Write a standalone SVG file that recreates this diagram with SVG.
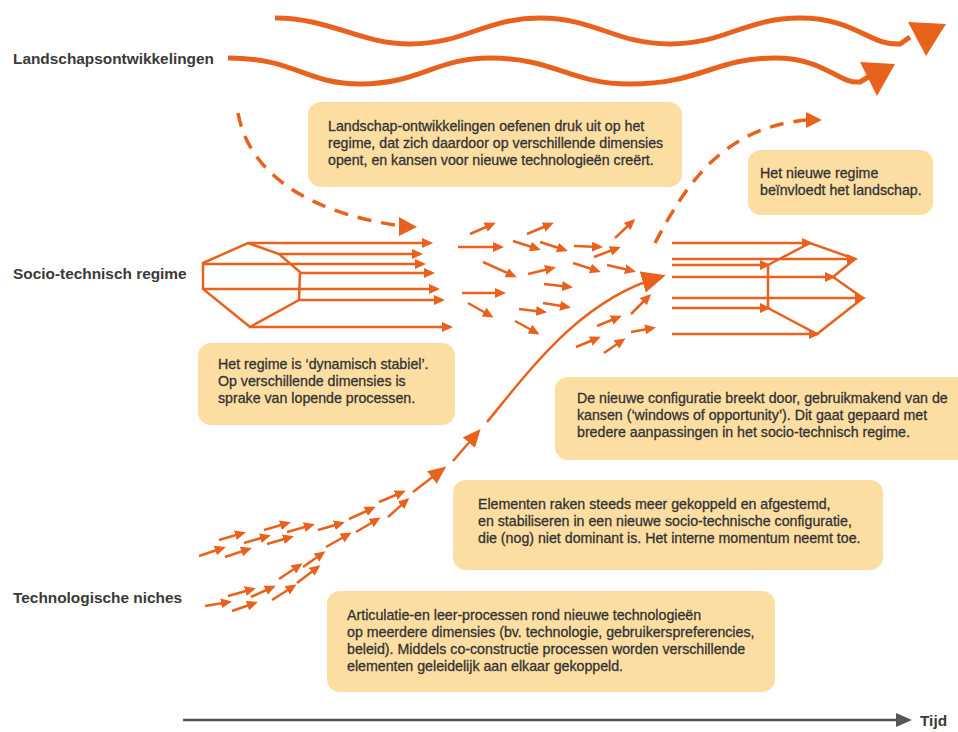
<svg xmlns="http://www.w3.org/2000/svg" width="958" height="732" viewBox="0 0 958 732">
<style>
.o{fill:none;stroke:#E8621E;stroke-width:2.5}
.w{fill:none;stroke:#E8621E;stroke-width:5}
.d{fill:none;stroke:#E8621E;stroke-width:3.5;stroke-dasharray:14 10}
.f{fill:#E8621E}
.box{fill:#FDDEA2}
.t{font-family:"Liberation Sans",Arial,sans-serif;font-size:14.2px;fill:#333;stroke:#333;stroke-width:0.3}
.lb{font-family:"Liberation Sans",Arial,sans-serif;font-size:15.4px;font-weight:bold;fill:#3a3a3a}
</style>
<defs>
<marker id="a" markerWidth="11" markerHeight="10" refX="8" refY="5" orient="auto" markerUnits="userSpaceOnUse"><path d="M0,0 L11,5 L0,10 z" fill="#E8621E"/></marker>
<marker id="b" markerWidth="24" markerHeight="22" refX="18" refY="11" orient="auto" markerUnits="userSpaceOnUse"><path d="M0,0 L24,11 L0,22 z" fill="#E8621E"/></marker>
<marker id="c" markerWidth="18" markerHeight="16" refX="14" refY="8" orient="auto" markerUnits="userSpaceOnUse"><path d="M0,0 L18,8 L0,16 z" fill="#E8621E"/></marker>
</defs>

<g id="labels">
<text class="lb" x="13" y="64">Landschapsontwikkelingen</text>
<text class="lb" x="13" y="279">Socio-technisch regime</text>
<text class="lb" x="13" y="603">Technologische niches</text>
<text class="lb" x="920" y="726">Tijd</text>
</g>

<g id="landscape">
<path class="w" d="M275,18 C330,18 360,44 410,44 C465,44 485,18 540,18 C595,18 615,44 670,44 C725,44 745,18 800,18 C855,18 870,46 900,44 L910,37"/>
<polygon class="f" points="908,22 946,24 926,56"/>
<path class="w" d="M228,58 C295,58 305,84 360,84 C420,84 435,58 490,58 C555,58 570,84 630,84 C700,84 715,58 775,58 C825,58 838,84 860,82 L870,76"/>
<polygon class="f" points="860,62 895,64 877,96"/>
</g>

<g id="connectors">
<path class="d" d="M238,113 C250,180 320,215 402,226"/>
<polygon class="f" points="399,217 417,227 399,236"/>
<path class="d" d="M655,243 C688,180 725,128 806,120"/>
<polygon class="f" points="806,112 822,120 806,128"/>
<path class="o" d="M413,492 L443,469" marker-end="url(#c)"/>
<path class="o" d="M453,461 L478,432" marker-end="url(#c)"/>
<path class="o" d="M487,422 C530,370 580,300 660,277" marker-end="url(#b)"/>
<line x1="183" y1="720" x2="898" y2="720" stroke="#555" stroke-width="2.5"/>
<polygon fill="#555" points="896,713 912,720 896,727"/>
</g>

<g id="regime-old">
<path class="o" d="M203,263 L248,243 L279,254 L300,272 L299,300 L250,327 L203,289 Z"/>
<line class="o" x1="248" y1="243" x2="430" y2="243" marker-end="url(#a)"/>
<line class="o" x1="279" y1="254" x2="420" y2="254" marker-end="url(#a)"/>
<line class="o" x1="203" y1="264" x2="423" y2="264" marker-end="url(#a)"/>
<line class="o" x1="300" y1="273" x2="432" y2="273" marker-end="url(#a)"/>
<line class="o" x1="203" y1="289" x2="437" y2="289" marker-end="url(#a)"/>
<line class="o" x1="299" y1="300" x2="442" y2="300" marker-end="url(#a)"/>
<line class="o" x1="250" y1="327" x2="450" y2="327" marker-end="url(#a)"/>
</g>

<g id="transition-arrows">
<line class="o" x1="470" y1="234" x2="493" y2="224" marker-end="url(#a)"/>
<line class="o" x1="527" y1="234" x2="551" y2="224" marker-end="url(#a)"/>
<line class="o" x1="615" y1="238" x2="633" y2="221" marker-end="url(#a)"/>
<line class="o" x1="458" y1="247" x2="501" y2="247" marker-end="url(#a)"/>
<line class="o" x1="513" y1="241" x2="538" y2="249" marker-end="url(#a)"/>
<line class="o" x1="540" y1="242" x2="565" y2="250" marker-end="url(#a)"/>
<line class="o" x1="574" y1="246" x2="600" y2="247" marker-end="url(#a)"/>
<line class="o" x1="594" y1="257" x2="618" y2="248" marker-end="url(#a)"/>
<line class="o" x1="483" y1="262" x2="514" y2="276" marker-end="url(#a)"/>
<line class="o" x1="528" y1="274" x2="553" y2="268" marker-end="url(#a)"/>
<line class="o" x1="573" y1="263" x2="598" y2="271" marker-end="url(#a)"/>
<line class="o" x1="607" y1="265" x2="633" y2="271" marker-end="url(#a)"/>
<line class="o" x1="544" y1="284" x2="570" y2="287" marker-end="url(#a)"/>
<line class="o" x1="462" y1="293" x2="503" y2="293" marker-end="url(#a)"/>
<line class="o" x1="468" y1="303" x2="491" y2="316" marker-end="url(#a)"/>
<line class="o" x1="519" y1="309" x2="544" y2="312" marker-end="url(#a)"/>
<line class="o" x1="543" y1="303" x2="568" y2="307" marker-end="url(#a)"/>
<line class="o" x1="515" y1="321" x2="537" y2="333" marker-end="url(#a)"/>
<line class="o" x1="631" y1="314" x2="649" y2="296" marker-end="url(#a)"/>
<line class="o" x1="597" y1="326" x2="619" y2="317" marker-end="url(#a)"/>
<line class="o" x1="631" y1="332" x2="653" y2="328" marker-end="url(#a)"/>
<line class="o" x1="576" y1="347" x2="598" y2="338" marker-end="url(#a)"/>
<line class="o" x1="604" y1="353" x2="623" y2="340" marker-end="url(#a)"/>
</g>

<g id="regime-new">
<path class="o" d="M768,265 L810,243 L855,259 L833,277 L863,298 L817,334 L768,308 Z"/>
<line class="o" x1="672" y1="243" x2="810" y2="243" marker-end="url(#a)"/>
<line class="o" x1="672" y1="259" x2="855" y2="259" marker-end="url(#a)"/>
<line class="o" x1="672" y1="265" x2="768" y2="265" marker-end="url(#a)"/>
<line class="o" x1="672" y1="277" x2="833" y2="277" marker-end="url(#a)"/>
<line class="o" x1="672" y1="298" x2="863" y2="298" marker-end="url(#a)"/>
<line class="o" x1="672" y1="308" x2="768" y2="308" marker-end="url(#a)"/>
<line class="o" x1="672" y1="334" x2="817" y2="334" marker-end="url(#a)"/>
</g>

<g id="niche-arrows">
<line class="o" x1="199" y1="556" x2="223" y2="548" marker-end="url(#a)"/>
<line class="o" x1="219" y1="540" x2="243" y2="533" marker-end="url(#a)"/>
<line class="o" x1="225" y1="557" x2="249" y2="549" marker-end="url(#a)"/>
<line class="o" x1="244" y1="543" x2="268" y2="536" marker-end="url(#a)"/>
<line class="o" x1="264" y1="530" x2="288" y2="523" marker-end="url(#a)"/>
<line class="o" x1="267" y1="544" x2="291" y2="537" marker-end="url(#a)"/>
<line class="o" x1="287" y1="532" x2="312" y2="525" marker-end="url(#a)"/>
<line class="o" x1="318" y1="530" x2="342" y2="523" marker-end="url(#a)"/>
<line class="o" x1="349" y1="519" x2="373" y2="508" marker-end="url(#a)"/>
<line class="o" x1="379" y1="502" x2="403" y2="492" marker-end="url(#a)"/>
<line class="o" x1="388" y1="517" x2="407" y2="500" marker-end="url(#a)"/>
<line class="o" x1="356" y1="532" x2="378" y2="519" marker-end="url(#a)"/>
<line class="o" x1="326" y1="547" x2="349" y2="534" marker-end="url(#a)"/>
<line class="o" x1="205" y1="606" x2="229" y2="602" marker-end="url(#a)"/>
<line class="o" x1="228" y1="596" x2="253" y2="589" marker-end="url(#a)"/>
<line class="o" x1="232" y1="611" x2="255" y2="603" marker-end="url(#a)"/>
<line class="o" x1="251" y1="597" x2="273" y2="587" marker-end="url(#a)"/>
<line class="o" x1="272" y1="600" x2="294" y2="586" marker-end="url(#a)"/>
<line class="o" x1="279" y1="579" x2="300" y2="565" marker-end="url(#a)"/>
<line class="o" x1="297" y1="583" x2="318" y2="567" marker-end="url(#a)"/>
<line class="o" x1="303" y1="567" x2="323" y2="553" marker-end="url(#a)"/>
</g>

<g id="box-landscape">
<rect class="box" x="308" y="102" width="374" height="85" rx="13"/>
<text class="t" x="328" y="131">Landschap-ontwikkelingen oefenen druk uit op het</text>
<text class="t" x="328" y="148">regime, dat zich daardoor op verschillende dimensies</text>
<text class="t" x="328" y="165">opent, en kansen voor nieuwe technologieën creërt.</text>
</g>

<g id="box-newregime">
<rect class="box" x="748" y="150" width="185" height="65" rx="13"/>
<text class="t" x="760" y="178">Het nieuwe regime</text>
<text class="t" x="760" y="195">beïnvloedt het landschap.</text>
</g>

<g id="box-stable">
<rect class="box" x="198" y="343" width="257" height="82" rx="13"/>
<text class="t" x="218" y="369">Het regime is ‘dynamisch stabiel’.</text>
<text class="t" x="218" y="386">Op verschillende dimensies is</text>
<text class="t" x="218" y="403">sprake van lopende processen.</text>
</g>

<g id="box-breakthrough">
<rect class="box" x="555" y="377" width="415" height="83" rx="13"/>
<text class="t" x="577" y="403">De nieuwe configuratie breekt door, gebruikmakend van de</text>
<text class="t" x="577" y="420">kansen (‘windows of opportunity’). Dit gaat gepaard met</text>
<text class="t" x="577" y="437">bredere aanpassingen in het socio-technisch regime.</text>
</g>

<g id="box-elements">
<rect class="box" x="453" y="480" width="430" height="90" rx="13"/>
<text class="t" x="478" y="509">Elementen raken steeds meer gekoppeld en afgestemd,</text>
<text class="t" x="478" y="526">en stabiliseren in een nieuwe socio-technische configuratie,</text>
<text class="t" x="478" y="543">die (nog) niet dominant is. Het interne momentum neemt toe.</text>
</g>

<g id="box-articulation">
<rect class="box" x="327" y="591" width="448" height="101" rx="13"/>
<text class="t" x="347" y="620">Articulatie-en leer-processen rond nieuwe technologieën</text>
<text class="t" x="347" y="637">op meerdere dimensies (bv. technologie, gebruikerspreferencies,</text>
<text class="t" x="347" y="654">beleid). Middels co-constructie processen worden verschillende</text>
<text class="t" x="347" y="671">elementen geleidelijk aan elkaar gekoppeld.</text>
</g>
</svg>
